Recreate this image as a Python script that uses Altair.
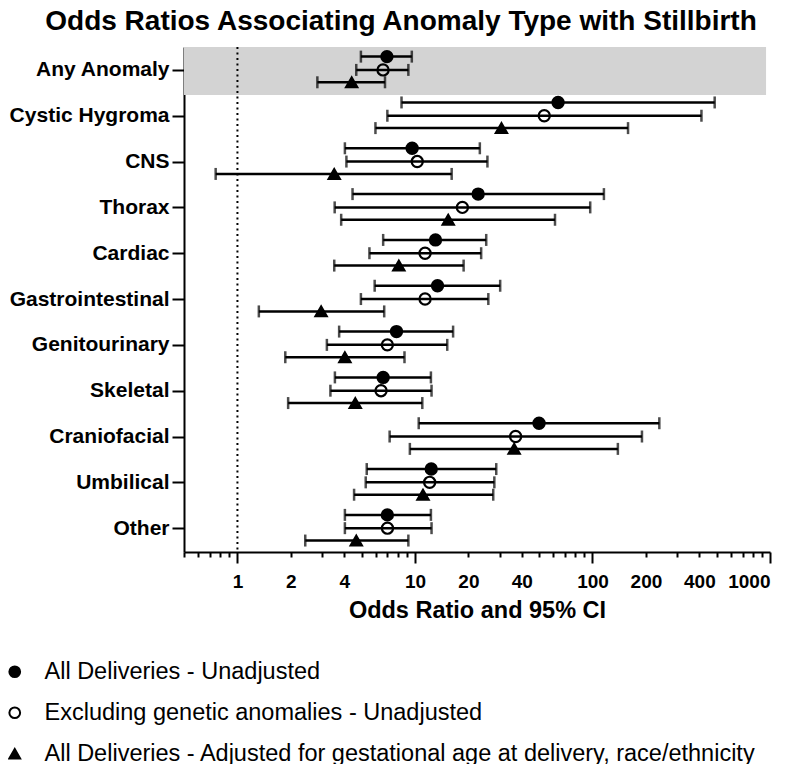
import altair as alt
import pandas as pd

categories = ["Any Anomaly", "Cystic Hygroma", "CNS", "Thorax", "Cardiac",
              "Gastrointestinal", "Genitourinary", "Skeletal", "Craniofacial",
              "Umbilical", "Other"]

series_names = [
    "All Deliveries - Unadjusted",
    "Excluding genetic anomalies - Unadjusted",
    "All Deliveries - Adjusted for gestational age at delivery, race/ethnicity",
]

all_or = [6.95, 64.0, 9.64, 22.7, 13.05, 13.4, 7.87, 6.62, 50.0, 12.35, 6.99]
all_lo = [4.96, 8.40, 4.03, 4.45, 6.62, 5.93, 3.74, 3.54, 10.5, 5.35, 4.03]
all_hi = [9.6, 488, 23.2, 116, 25.2, 30.2, 16.4, 12.3, 238, 28.7, 12.3]

excl_or = [6.61, 53.5, 10.3, 18.5, 11.4, 11.4, 6.99, 6.44, 36.9, 12.1, 7.0]
excl_lo = [4.67, 6.99, 4.11, 3.53, 5.54, 4.96, 3.19, 3.34, 7.2, 5.28, 4.03]
excl_hi = [9.18, 411, 25.6, 97.1, 23.6, 25.9, 15.2, 12.4, 190, 28.0, 12.4]

adj_or = [4.40, 30.7, 3.51, 15.4, 8.11, 2.96, 4.03, 4.61, 36.2, 11.1, 4.67]
adj_lo = [2.82, 5.99, 0.754, 3.84, 3.51, 1.32, 1.86, 1.93, 9.36, 4.54, 2.41]
adj_hi = [6.78, 158.6, 16.1, 61.5, 18.8, 6.71, 8.73, 11.0, 139, 27.6, 9.18]

x_tick_values = [0.5, 0.6, 0.7, 0.8, 0.9, 1, 2, 3, 4, 5, 6, 7, 8, 9,
                 10, 20, 30, 40, 50, 60, 70, 80, 90,
                 100, 200, 300, 400, 500, 600, 700, 800, 900, 1000]
x_labels = [1, 2, 4, 10, 20, 40, 100, 200, 400, 1000]
x_major = [1, 10, 100, 1000]

row_offsets = [-0.29, 0.0, 0.27]

rows = []
for s_i, (name, ors, los, his) in enumerate([
        (series_names[0], all_or, all_lo, all_hi),
        (series_names[1], excl_or, excl_lo, excl_hi),
        (series_names[2], adj_or, adj_lo, adj_hi)]):
    for c_i, cat in enumerate(categories):
        rows.append({"cat": cat, "series": name, "pos": c_i + row_offsets[s_i],
                     "OR": ors[c_i], "lo": los[c_i], "hi": his[c_i]})
df = pd.DataFrame(rows)

FONT = "Liberation Sans"
xscale = alt.Scale(type="log", domain=[0.5, 1000], nice=False)
yscale = alt.Scale(domain=[-0.5, 10.52], reverse=True, nice=False, zero=False)

label_array = "[" + ",".join("'" + c + "'" for c in categories) + "]"
major_test = "indexof([" + ",".join(str(v) for v in x_major) + "], datum.value) >= 0"

x_axis = alt.Axis(values=x_tick_values,
                  tickSize={"condition": {"test": major_test, "value": 11}, "value": 5},
                  labelPadding={"condition": {"test": major_test, "value": 9.5}, "value": 15.5},
                  tickWidth=2, domainWidth=2,
                  domainColor="black", tickColor="black",
                  labelExpr="indexof([" + ",".join(str(v) for v in x_labels) + "], datum.value) >= 0 ? '' + datum.value : ''",
                  labelOverlap=False, labelFontSize=19, labelFont=FONT,
                  labelFontWeight="bold", labelColor="black",
                  title="Odds Ratio and 95% CI", titleFontSize=23.5, titleFont=FONT,
                  titleFontWeight="bold", titleColor="black", titlePadding=7,
                  grid=False, orient="bottom")

y_axis = alt.Axis(values=list(range(len(categories))),
                  labelExpr=label_array + "[datum.value]",
                  tickSize=12, tickWidth=2, domainWidth=2, domainColor="black",
                  tickColor="black", labelFontSize=21, labelFont=FONT,
                  labelFontWeight="bold", labelColor="black", labelPadding=3,
                  title=None, grid=False)

band_df = pd.DataFrame({"x": [0.5], "x2": [950], "y": [-0.5], "y2": [0.55]})
band = alt.Chart(band_df).mark_rect(color="#d3d3d3").encode(
    x=alt.X("x:Q", scale=xscale, axis=x_axis),
    x2="x2:Q",
    y=alt.Y("y:Q", scale=yscale, axis=y_axis),
    y2="y2:Q",
)

ref_df = pd.DataFrame({"v": [1]})
ref = alt.Chart(ref_df).mark_rule(color="black", strokeWidth=2,
                                  strokeDash=[2, 3.5]).encode(
    x=alt.X("v:Q", scale=xscale))

bars = alt.Chart(df).mark_rule(color="black", strokeWidth=2.5).encode(
    x=alt.X("lo:Q", scale=xscale),
    x2="hi:Q",
    y=alt.Y("pos:Q", scale=yscale),
)
cap_lo = alt.Chart(df).mark_tick(color="black", thickness=2.5, size=12,
                                 orient="vertical").encode(
    x=alt.X("lo:Q", scale=xscale), y=alt.Y("pos:Q", scale=yscale))
cap_hi = alt.Chart(df).mark_tick(color="black", thickness=2.5, size=12,
                                 orient="vertical").encode(
    x=alt.X("hi:Q", scale=xscale), y=alt.Y("pos:Q", scale=yscale))

legend = alt.Legend(title=None, orient="none", legendX=-176, legendY=613,
                    padding=0, symbolOffset=-5,
                    direction="vertical", labelFontSize=23.5, labelFont=FONT,
                    labelColor="black", symbolSize=115,
                    symbolStrokeColor="black", symbolStrokeWidth=2,
                    labelOffset=18, rowPadding=16, labelLimit=1000)

points = alt.Chart(df).mark_point(size=125, strokeWidth=2.2,
                                  opacity=1).encode(
    x=alt.X("OR:Q", scale=xscale),
    y=alt.Y("pos:Q", scale=yscale),
    shape=alt.Shape("series:N", sort=series_names,
                    scale=alt.Scale(domain=series_names,
                                    range=["circle", "circle", "triangle-up"]),
                    legend=legend),
    fill=alt.Fill("series:N", sort=series_names,
                  scale=alt.Scale(domain=series_names,
                                  range=["black", "transparent", "black"]),
                  legend=legend),
    stroke=alt.Stroke("series:N", sort=series_names,
                      scale=alt.Scale(domain=series_names,
                                      range=["black", "black", "black"]),
                      legend=legend),
)

chart = alt.layer(band, ref, bars, cap_lo, cap_hi, points).properties(
    width=586, height=505,
    padding={"left": 0, "top": 0, "right": 5, "bottom": 0},
    title=alt.TitleParams("Odds Ratios Associating Anomaly Type with Stillbirth",
                          fontSize=28, font=FONT, fontWeight="bold",
                          anchor="middle", dx=-76, offset=10, color="black"),
).configure_view(stroke=None)

chart.save("out.html", embed_options={"renderer": "svg", "actions": False})
